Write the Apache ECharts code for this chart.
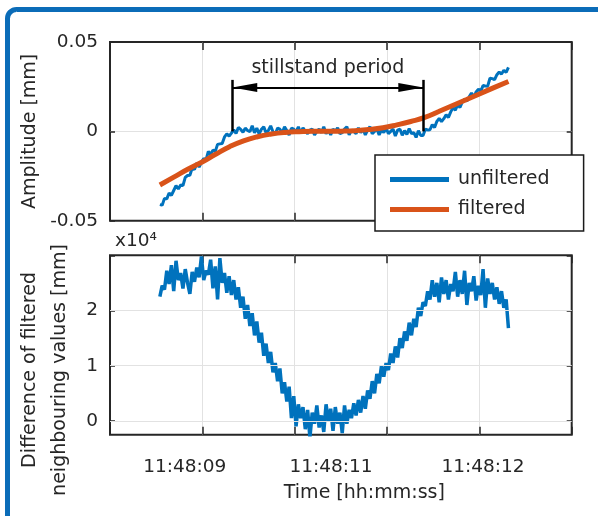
<!DOCTYPE html>
<html>
<head>
<meta charset="utf-8">
<script src="https://cdn.jsdelivr.net/npm/echarts@6.0.0/dist/echarts.min.js"></script>
<style>
html, body { margin: 0; padding: 0; background: #fff; }
#chart { width: 598px; height: 516px; }
</style>
</head>
<body>
<div id="chart"></div>
<script>
// time axis is in plot units (0..5), samples are evenly spaced
var timeStart = 0.54, timeStep = 0.025;

// amplitude [mm], unfiltered signal
var unfiltered = [
  -0.0410, -0.0413, -0.0375, -0.0378, -0.0345, -0.0358, -0.0331, -0.0304, -0.0322, -0.0300,
  -0.0304, -0.0258, -0.0247, -0.0246, -0.0205, -0.0213, -0.0177, -0.0200, -0.0173, -0.0152,
  -0.0160, -0.0112, -0.0128, -0.0105, -0.0112, -0.0073, -0.0070, -0.0068, -0.0031, -0.0014,
  -0.0027, -0.0010, 0.0009, -0.0012, 0.0022, 0.0011, -0.0005,
  0.0018, 0.0005, -0.0002, 0.0031, -0.0008, 0.0018, -0.0015, 0.0012, 0.0025, -0.0008,
  0.0005, 0.0031, -0.0002, -0.0015, 0.0018, 0.0012, -0.0008, 0.0025, 0.0005, -0.0021,
  0.0018, 0.0012, -0.0002, 0.0025,
  -0.0010, 0.0020, 0.0000, -0.0013, 0.0007, 0.0013, -0.0020, 0.0000, 0.0013, -0.0007,
  0.0026, -0.0013, 0.0007, -0.0020, 0.0013, 0.0000, 0.0020, -0.0013, -0.0007, 0.0013,
  0.0026, -0.0020, 0.0007, 0.0000, -0.0013, 0.0020, -0.0007, 0.0013, -0.0020, 0.0007,
  0.0026, -0.0013, 0.0000, 0.0013, -0.0020, 0.0007, -0.0007, 0.0020, -0.0013, 0.0000,
  0.0013, -0.0026, 0.0007,
  0.0012, -0.0022, 0.0004, -0.0017, 0.0015, -0.0013, -0.0007, -0.0034, 0.0004, -0.0023,
  -0.0023, 0.0012, 0.0008, 0.0009, 0.0038,
  0.0021, 0.0056, 0.0072, 0.0055, 0.0071, 0.0093,
  0.0078, 0.0109, 0.0133, 0.0118, 0.0149, 0.0134, 0.0165,
  0.0180, 0.0170, 0.0193, 0.0215, 0.0191, 0.0221, 0.0236, 0.0225,
  0.0256, 0.0254, 0.0253, 0.0297, 0.0295,
  0.0289, 0.0317, 0.0332, 0.0321, 0.0342, 0.0330, 0.0358
];

// filtered signal [mm], coarser sampling
var filteredStart = 0.54, filteredStep = 0.151;
var filtered = [
  -0.0300, -0.0256, -0.0212, -0.0173, -0.0128, -0.0086, -0.0053, -0.0030, -0.0015, -0.0006,
  -0.0002, 0.0000, 0.0000, 0.0001, 0.0004, 0.0010, 0.0020, 0.0036, 0.0055, 0.0078,
  0.0111, 0.0145, 0.0178, 0.0212, 0.0246, 0.0279
];

// difference of filtered neighbouring values (x10^4)
var difference = [
  2.25, 2.45, 2.38, 2.72, 2.48, 2.82, 2.35, 2.90, 2.55, 2.68,
  2.40, 2.75, 2.50, 2.30, 2.70, 2.52, 2.78, 2.60, 2.98, 2.55,
  2.72, 2.65, 2.92, 2.40, 2.80, 2.20, 2.95, 2.50, 2.68, 2.32,
  2.62, 2.28, 2.55, 2.20, 2.42, 2.05, 2.25, 1.85, 2.10, 1.72,
  1.95, 1.55, 1.80, 1.42, 1.60, 1.18, 1.40, 1.05, 1.25, 0.88,
  1.05, 0.72, 0.95, 0.50, 0.70, 0.35, 0.62, 0.05, 0.45, -0.10,
  0.30, 0.05, 0.25, -0.15, 0.20, -0.30, 0.15, -0.05, 0.28, -0.12,
  0.10, -0.20, 0.30, 0.00, 0.22, -0.18, 0.25, -0.05, 0.15, -0.22,
  0.28, -0.05, 0.20, 0.05, 0.32, 0.10, 0.38, 0.15, 0.45, 0.22,
  0.55, 0.40, 0.72, 0.50, 0.85, 0.68, 1.00, 0.80, 1.05, 0.92,
  1.22, 1.05, 1.35, 1.15, 1.50, 1.32, 1.62, 1.45, 1.78, 1.55,
  1.85, 1.70, 2.05, 1.90, 2.15, 2.08, 2.35, 2.20, 2.55, 2.25,
  2.50, 2.15, 2.60, 2.30, 2.55, 2.20, 2.48, 2.35, 2.70, 2.25,
  2.55, 2.30, 2.72, 2.10, 2.50, 2.35, 2.62, 2.18, 2.45, 2.28,
  2.75, 2.05, 2.58, 2.30, 2.50, 2.20, 2.42, 2.12, 2.35, 2.05,
  2.20, 1.68
];

var timeTickValues = [0.809, 2.393, 4.039];
var timeTickLabels = ['11:48:09', '11:48:11', '11:48:12'];
var diffTicks = [0, 1, 2, 3];
var diffLabels = [0, 1, 2];

// stillstand period marker
var stillstandFrom = 1.3245, stillstandTo = 3.393;
var arrowLevel = 0.0245, barTop = 0.0288;
var arrowHalf = 0.135; // half an arrowhead, in time units

var font = 'DejaVu Sans';
var ink = '#262626';
var gridGray = '#e2e2e2';
var blue = '#0072BD';
var orange = '#D95319';

function pairs(start, step, values) {
  return values.map(function (v, i) {
    return [+(start + i * step).toFixed(4), v];
  });
}

function xAx(grid, pos, extra) {
  var a = {
    gridIndex: grid, type: 'value', min: 0, max: 5, interval: 1, position: pos,
    axisLine: { show: false, onZero: false },
    axisTick: { show: true, inside: true, length: 8, lineStyle: { color: ink, width: 1.5 } },
    axisLabel: { show: false },
    splitLine: { show: false }
  };
  return Object.assign(a, extra || {});
}

function yAx(grid, pos, min, max, extra) {
  var a = {
    gridIndex: grid, type: 'value', min: min, max: max, position: pos,
    axisLine: { show: false, onZero: false },
    axisTick: { show: true, inside: true, length: 5, lineStyle: { color: ink, width: 1.5 } },
    axisLabel: { show: false },
    splitLine: { show: false }
  };
  return Object.assign(a, extra || {});
}

var tickText = { fontSize: 18.5, color: ink, fontFamily: font };
var vSplit = { show: true, showMinLine: false, showMaxLine: false, lineStyle: { color: gridGray, width: 1 } };

var chart = echarts.init(document.getElementById('chart'));
chart.setOption({
  animation: false,
  title: {
    text: 'x10⁴', left: 115, top: 232, padding: 0,
    textStyle: { fontSize: 18.5, fontWeight: 'normal', color: ink, fontFamily: font }
  },
  graphic: [{
    type: 'rect', silent: true, z: -10,
    shape: { x: 7.5, y: 9.5, width: 700, height: 700, r: 9 },
    style: { fill: 'none', stroke: '#0b6cb8', lineWidth: 5 }
  }],
  legend: {
    data: ['unfiltered', 'filtered'],
    orient: 'vertical', left: 375, top: 155,
    itemWidth: 59, itemHeight: 5, itemGap: 11, icon: 'rect',
    padding: [15, 34, 12, 15],
    backgroundColor: '#fff', borderColor: '#1a1a1a', borderWidth: 1.5, borderRadius: 0,
    textStyle: { fontSize: 19, color: ink, fontFamily: font, padding: [0, 0, 0, 4] },
    z: 10
  },
  grid: [
    { left: 110, top: 42, width: 461.7, height: 178.7, show: true, borderColor: ink, borderWidth: 2, backgroundColor: 'transparent' },
    { left: 110, top: 255.3, width: 461.7, height: 179.4, show: true, borderColor: ink, borderWidth: 2, backgroundColor: 'transparent' }
  ],
  xAxis: [
    xAx(0, 'bottom', { splitLine: vSplit }),
    xAx(0, 'top'),
    xAx(1, 'bottom', {
      splitLine: vSplit,
      axisLabel: {
        show: true, margin: 23, customValues: timeTickValues,
        fontSize: 18.5, color: ink, fontFamily: font,
        formatter: function (v) {
          var k = timeTickValues.indexOf(v);
          return k >= 0 ? timeTickLabels[k] : '';
        }
      },
      name: 'Time [hh:mm:ss]', nameLocation: 'middle', nameGap: 49,
      nameTextStyle: { fontSize: 19, color: ink, fontFamily: font, padding: [0, 0, 0, 47] }
    }),
    xAx(1, 'top')
  ],
  yAxis: [
    yAx(0, 'left', -0.05, 0.05, {
      interval: 0.05,
      axisLabel: Object.assign({ show: true, margin: 12 }, tickText),
      splitLine: vSplit,
      name: 'Amplitude [mm]', nameLocation: 'middle', nameGap: 69,
      nameTextStyle: { fontSize: 19, color: ink, fontFamily: font }
    }),
    yAx(0, 'right', -0.05, 0.05, { interval: 0.05 }),
    yAx(1, 'left', -0.25, 3, {
      axisTick: { show: true, inside: true, length: 5, customValues: diffTicks, lineStyle: { color: ink, width: 1.5 } },
      axisLabel: Object.assign({ show: true, margin: 12, customValues: diffLabels }, tickText),
      name: 'Difference of filtered\nneighbouring values [mm]', nameLocation: 'middle', nameGap: 33,
      nameTextStyle: { fontSize: 19, lineHeight: 30, color: ink, fontFamily: font, padding: [0, 50, 0, 0] }
    }),
    yAx(1, 'right', -0.25, 3, {
      axisTick: { show: true, inside: true, length: 5, customValues: diffTicks, lineStyle: { color: ink, width: 1.5 } }
    })
  ],
  series: [
    {
      name: 'grid lines', type: 'line', xAxisIndex: 2, yAxisIndex: 2, data: [], z: 1,
      markLine: {
        silent: true, symbol: ['none', 'none'], label: { show: false },
        lineStyle: { color: gridGray, width: 1, type: 'solid' },
        emphasis: { disabled: true },
        data: diffLabels.map(function (v) { return { yAxis: v }; })
      }
    },
    {
      name: 'unfiltered', type: 'line', xAxisIndex: 0, yAxisIndex: 0, z: 3,
      data: pairs(timeStart, timeStep, unfiltered),
      showSymbol: false, symbol: 'none',
      lineStyle: { color: blue, width: 3 }, itemStyle: { color: blue },
      emphasis: { disabled: true }
    },
    {
      name: 'filtered', type: 'line', xAxisIndex: 0, yAxisIndex: 0, z: 4,
      data: pairs(filteredStart, filteredStep, filtered), smooth: true,
      showSymbol: false, symbol: 'none',
      lineStyle: { color: orange, width: 5 }, itemStyle: { color: orange },
      emphasis: { disabled: true }
    },
    {
      name: 'stillstand', type: 'line', xAxisIndex: 0, yAxisIndex: 0, data: [], z: 5,
      markLine: {
        silent: true, symbol: ['none', 'none'], label: { show: false },
        lineStyle: { color: '#000', width: 2.5, type: 'solid' },
        emphasis: { disabled: true },
        data: [
          [{ coord: [stillstandFrom, barTop] }, { coord: [stillstandFrom, 0] }],
          [{ coord: [stillstandTo, barTop] }, { coord: [stillstandTo, 0] }],
          [
            { coord: [stillstandFrom + arrowHalf, arrowLevel], symbol: 'triangle', symbolSize: [9, 25],
              lineStyle: { width: 2 },
              label: { show: true, position: 'insideMiddleTop', distance: 10, formatter: 'stillstand period',
                       fontSize: 19, color: ink, fontFamily: font } },
            { coord: [stillstandTo - arrowHalf, arrowLevel], symbol: 'triangle', symbolSize: [9, 25] }
          ],
          [{ coord: [stillstandFrom, arrowLevel] }, { coord: [stillstandTo, arrowLevel], lineStyle: { width: 2 } }]
        ]
      }
    },
    {
      name: 'difference', type: 'line', xAxisIndex: 2, yAxisIndex: 2, z: 3,
      data: pairs(timeStart, timeStep, difference),
      showSymbol: false, symbol: 'none',
      lineStyle: { color: blue, width: 3.5 }, itemStyle: { color: blue },
      emphasis: { disabled: true }
    }
  ]
});
</script>
</body>
</html>
